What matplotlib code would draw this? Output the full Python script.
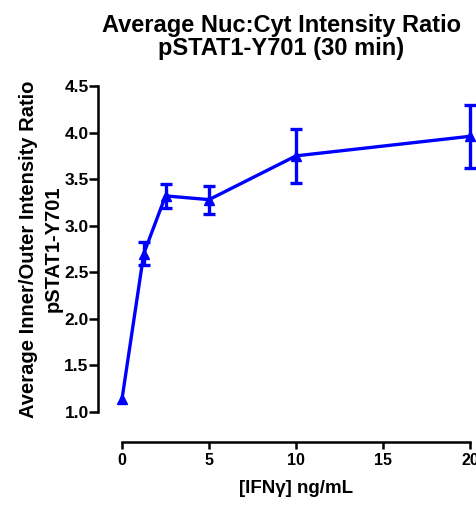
import numpy as np
import matplotlib.pyplot as plt

plt.rcParams['font.family'] = ['Liberation Sans', 'DejaVu Sans']
plt.rcParams['font.weight'] = 'bold'

# data
conc = [0, 1.25, 2.5, 5, 10, 20]
ratio = [1.14, 2.70, 3.32, 3.28, 3.75, 3.96]
err = [np.nan, 0.12, 0.125, 0.15, 0.29, 0.34]

xticks = [0, 5, 10, 15, 20]
yticks = [1.0, 1.5, 2.0, 2.5, 3.0, 3.5, 4.0, 4.5]

fig = plt.figure(figsize=(4.77, 5.05), dpi=100)
ax = fig.add_axes([0.2558, 0.1842, 0.7296, 0.6455])

ax.errorbar(conc, ratio, yerr=err, color='#0000ff', lw=2.4, marker='^',
            ms=7, capsize=4.5, capthick=2.4, elinewidth=2.4, clip_on=False)

ax.set_xlim(0, 20)
ax.set_ylim(1.0, 4.5)
ax.set_xticks(xticks)
ax.set_yticks(yticks)
ax.set_yticklabels(['%.1f' % v for v in yticks])

for s in ['top', 'right']:
    ax.spines[s].set_visible(False)
ax.spines['left'].set_position(('outward', 17))
ax.spines['bottom'].set_position(('outward', 21.5))
ax.spines['left'].set_linewidth(1.8)
ax.spines['bottom'].set_linewidth(1.8)
ax.tick_params(axis='y', length=6.5, width=1.8, labelsize=12.5, pad=0.5)
ax.tick_params(axis='x', length=5, width=1.8, labelsize=11.5, pad=3)
for lab in ax.get_xticklabels() + ax.get_yticklabels():
    lab.set_fontweight('bold')

ax.set_xlabel('[IFN\u03b3] ng/mL', fontsize=13.5, fontweight='bold', labelpad=9)
ax.set_ylabel('Average Inner/Outer Intensity Ratio\npSTAT1-Y701', fontsize=14.5,
              fontweight='bold', labelpad=1, linespacing=1.4)
ax.set_title('Average Nuc:Cyt Intensity Ratio\npSTAT1-Y701 (30 min)', fontsize=17,
             fontweight='bold', pad=22, linespacing=1.0, x=0.457)

fig.savefig('out.png', dpi=100)
